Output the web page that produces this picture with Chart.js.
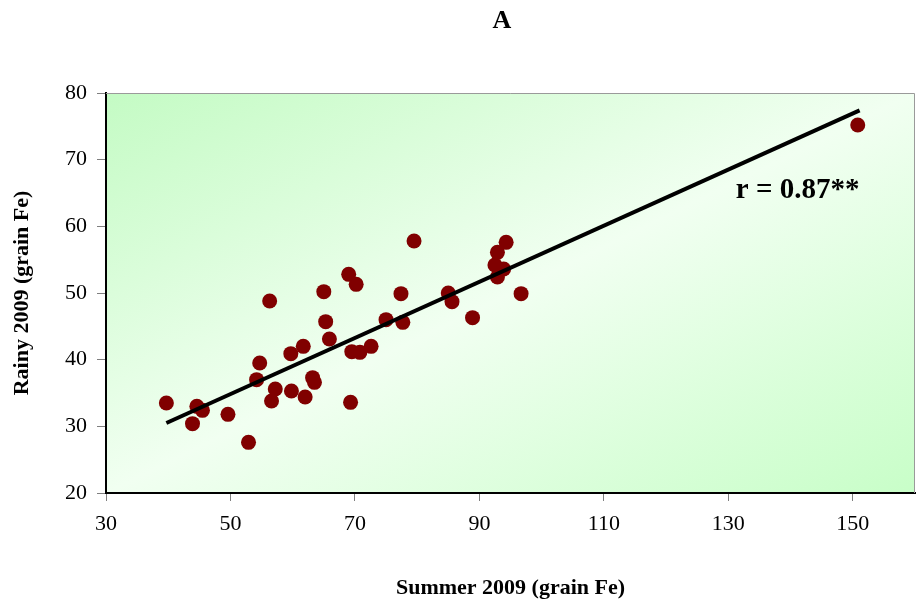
<!DOCTYPE html>
<html>
<head>
<meta charset="utf-8">
<title>Grain Fe: Summer 2009 vs Rainy 2009</title>
<script src="https://cdn.jsdelivr.net/npm/chart.js@4.4.0/dist/chart.umd.min.js"></script>
<style>
  html, body { margin: 0; padding: 0; background: #fff; }
  #wrap { width: 916px; height: 604px; }
</style>
</head>
<body>
<div id="wrap"><canvas id="feChart" width="916" height="604"></canvas></div>
<script>
// grain Fe per entry: summer 2009 (x) against rainy 2009 (y)
const summerFe = [39.7, 44.6, 45.5, 43.9, 49.6, 52.9, 56.3, 54.7, 54.2, 57.2,
                  56.6, 59.7, 61.7, 59.8, 62.0, 63.2, 63.5, 65.0, 65.3, 65.9,
                  69.0, 70.2, 69.3, 69.5, 70.8, 72.6, 75.0, 77.7, 77.4, 79.5,
                  85.0, 85.6, 88.9, 92.9, 94.3, 92.5, 93.9, 92.9, 96.7, 150.8];
const rainyFe  = [33.5, 33.0, 32.4, 30.4, 31.8, 27.6, 48.8, 39.5, 37.0, 35.6,
                  33.8, 40.9, 42.0, 35.3, 34.4, 37.3, 36.6, 50.2, 45.7, 43.1,
                  52.8, 51.3, 33.6, 41.2, 41.1, 42.0, 46.0, 45.6, 49.9, 57.8,
                  50.0, 48.7, 46.3, 56.1, 57.6, 54.2, 53.6, 52.4, 49.9, 75.2];

// fitted line, both ends
const trendX = [39.7, 151.1];
const trendY = [30.5, 77.4];

const xTicks = [30, 50, 70, 90, 110, 130, 150];
const yTicks = [20, 30, 40, 50, 60, 70, 80];

const panelLabel = 'A';
const rLabel = 'r = 0.87**';

const serif = "'Liberation Serif', 'Times New Roman', serif";
const tickFont = { family: serif, size: 22 };
const axisTitleFont = { family: serif, size: 22, weight: 'bold' };

const points = summerFe.map((x, i) => ({ x: x, y: rainyFe[i] }));
const trend = trendX.map((x, i) => ({ x: x, y: trendY[i] }));

// green diagonal fill, frame, panel letter and r value
const plotDecor = {
  id: 'plotDecor',
  beforeDraw(chart) {
    const { ctx, chartArea: a } = chart;
    ctx.save();
    ctx.translate(a.left, a.top);
    ctx.scale(a.width, a.height);
    const g = ctx.createLinearGradient(0, 0, 1, 1);
    g.addColorStop(0, '#c4fbc4');
    g.addColorStop(0.5, '#f1fff1');
    g.addColorStop(1, '#c8fec8');
    ctx.fillStyle = g;
    ctx.fillRect(0, 0, 1, 1);
    ctx.restore();
  },
  afterDraw(chart) {
    const { ctx, chartArea: a, scales } = chart;
    ctx.save();
    ctx.strokeStyle = '#9a9a9a';
    ctx.lineWidth = 1;
    ctx.beginPath();
    ctx.moveTo(a.left, a.top + 0.5);
    ctx.lineTo(a.right - 0.5, a.top + 0.5);
    ctx.lineTo(a.right - 0.5, a.bottom);
    ctx.stroke();

    ctx.fillStyle = '#000';
    ctx.textAlign = 'center';
    ctx.textBaseline = 'middle';
    ctx.font = 'bold 26px ' + serif;
    ctx.fillText(panelLabel, 502, 21);

    ctx.textAlign = 'left';
    ctx.font = 'bold 29px ' + serif;
    ctx.fillText(rLabel, scales.x.getPixelForValue(131.2), scales.y.getPixelForValue(65.3));
    ctx.restore();
  }
};

new Chart(document.getElementById('feChart'), {
  type: 'scatter',
  data: {
    datasets: [
      {
        label: 'Fe',
        data: points,
        backgroundColor: '#800000',
        borderColor: '#800000',
        borderWidth: 0,
        pointRadius: 7.5,
        order: 2
      },
      {
        type: 'line',
        label: 'trend',
        data: trend,
        borderColor: '#000',
        borderWidth: 4,
        pointRadius: 0,
        fill: false,
        order: 1
      }
    ]
  },
  options: {
    responsive: false,
    animation: false,
    layout: { autoPadding: false, padding: { top: 93, right: 1, left: 0, bottom: 0 } },
    plugins: {
      legend: { display: false },
      tooltip: { enabled: false },
      title: { display: false }
    },
    scales: {
      x: {
        type: 'linear',
        position: 'bottom',
        min: 30,
        max: 160,
        afterBuildTicks: s => { s.ticks = xTicks.map(v => ({ value: v })); },
        afterFit: s => {
          s.height = 111;
          s.paddingLeft = 0;
          s.paddingRight = 0;
        },
        grid: { drawOnChartArea: false, drawTicks: true, tickLength: 8, color: '#7f7f7f' },
        border: { display: true, color: '#000', width: 2 },
        ticks: { color: '#000', font: tickFont, padding: 10, maxRotation: 0, autoSkip: false },
        title: {
          display: true,
          text: 'Summer 2009 (grain Fe)',
          color: '#000',
          font: axisTitleFont,
          padding: { top: 0, bottom: 2 }
        }
      },
      y: {
        type: 'linear',
        position: 'left',
        min: 20,
        max: 80,
        afterBuildTicks: s => { s.ticks = yTicks.map(v => ({ value: v })); },
        afterFit: s => { s.width = 106; },
        grid: { drawOnChartArea: false, drawTicks: true, tickLength: 9, color: '#7f7f7f' },
        border: { display: true, color: '#000', width: 2 },
        ticks: { color: '#000', font: tickFont, padding: 10, autoSkip: false },
        title: {
          display: true,
          text: 'Rainy 2009 (grain Fe)',
          color: '#000',
          font: axisTitleFont,
          padding: { top: 9, bottom: 0 }
        }
      }
    }
  },
  plugins: [plotDecor]
});
</script>
</body>
</html>
